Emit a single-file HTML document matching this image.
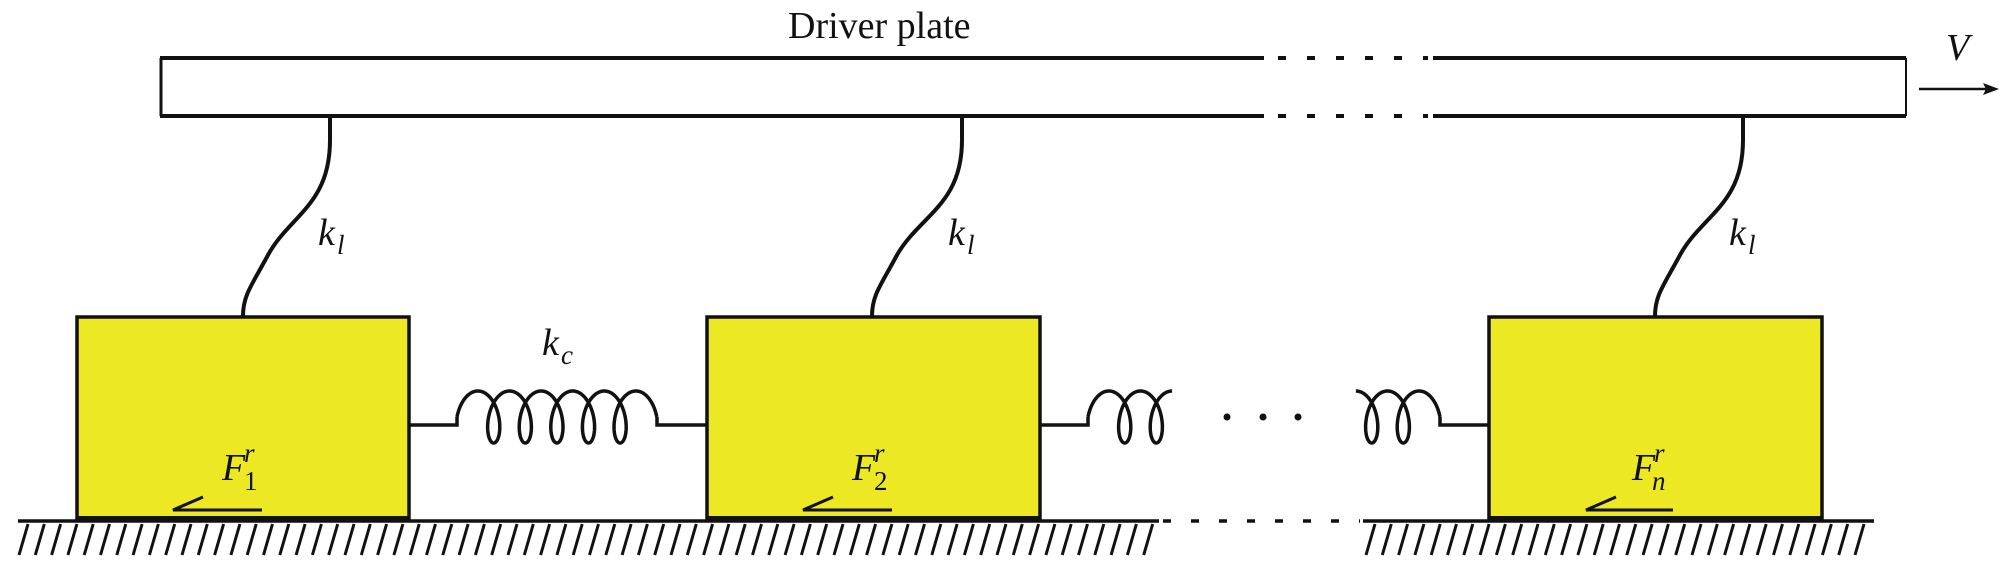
<!DOCTYPE html>
<html><head><meta charset="utf-8"><style>
html,body{margin:0;padding:0;background:#fff;}
svg{display:block;}
text{font-family:"Liberation Serif",serif;fill:#111;}
</style></head><body>
<svg id="s" width="2004" height="586" viewBox="0 0 2004 586" xmlns="http://www.w3.org/2000/svg">
<text x="788" y="38" font-size="38">Driver plate</text>
<g stroke="#111" fill="none">
<line x1="160" y1="58" x2="1264" y2="58" stroke-width="4"/>
<line x1="1433" y1="58" x2="1906" y2="58" stroke-width="4"/>
<line x1="160" y1="116" x2="1264" y2="116" stroke-width="4"/>
<line x1="1433" y1="116" x2="1906" y2="116" stroke-width="4"/>
<line x1="1278" y1="58" x2="1428" y2="58" stroke-width="4" stroke-dasharray="8 21"/>
<line x1="1278" y1="116" x2="1428" y2="116" stroke-width="4" stroke-dasharray="8 21"/>
<line x1="161" y1="58" x2="161" y2="116" stroke-width="3"/>
<line x1="1906" y1="58" x2="1906" y2="116" stroke-width="2"/>
<line x1="1919" y1="89" x2="1988" y2="89" stroke-width="2.5"/>
</g>
<path d="M1999,89 L1983,83 L1986,89 L1983,95 Z" fill="#111"/>
<text x="1946" y="60" font-size="38" font-style="italic">V</text>

<g stroke="#111" stroke-width="4" fill="none">
<path d="M330,117 L330,140 C330,205 290,215 268,255 C252,285 243,295 243,316"/>
<path d="M962,117 L962,140 C962,205 920,215 897,255 C881,285 872,295 872,316"/>
<path d="M1743,117 L1743,140 C1743,205 1702,215 1680,255 C1664,285 1655,295 1655,316"/>
</g>
<g font-size="38" font-style="italic">
<text x="318" y="245">k</text><text x="337" y="254" font-size="27">l</text>
<text x="948" y="245">k</text><text x="967" y="254" font-size="27">l</text>
<text x="1729" y="245">k</text><text x="1748" y="254" font-size="27">l</text>
<text x="542" y="355">k</text><text x="561" y="364" font-size="27">c</text>
</g>

<g fill="#ede824" stroke="#111" stroke-width="3.5">
<rect x="77" y="317" width="332" height="202"/>
<rect x="707" y="317" width="333" height="202"/>
<rect x="1489" y="317" width="333" height="202"/>
</g>
<g stroke="#111" stroke-width="4">
<line x1="77" y1="518" x2="409" y2="518"/>
<line x1="707" y1="518" x2="1040" y2="518"/>
<line x1="1489" y1="518" x2="1822" y2="518"/>
</g>

<g font-size="38" font-style="italic">
<text x="222" y="480">F</text><text x="244" y="462" font-size="27">r</text>
<text x="852" y="480">F</text><text x="874" y="462" font-size="27">r</text>
<text x="1632" y="480">F</text><text x="1654" y="462" font-size="27">r</text>
<text x="1652" y="490" font-size="27">n</text>
</g>
<g font-size="27"><text x="244" y="490">1</text><text x="874" y="490">2</text></g>
<g stroke="#111" stroke-width="3" fill="none">
<path d="M203,497 L173,510 L262,510"/>
<path d="M833,497 L803,510 L892,510"/>
<path d="M1616,497 L1586,510 L1673,510"/>
</g>

<g stroke="#111" stroke-width="3.5" fill="none" id="coils">
<path d="M409,425 L457,425 L457,417"/>
<path d="M657,417 L657,425 L707,425"/>
<path d="M1040,425 L1088,425 L1088,417"/>
<path d="M1440,417 L1440,425 L1489,425"/>
</g>
<g fill="#111">
<circle cx="1227" cy="417" r="3.5"/><circle cx="1263" cy="417" r="3.5"/><circle cx="1298" cy="417" r="3.5"/>
</g>

<g stroke="#111" stroke-width="3.5">
<line x1="18" y1="521" x2="1159" y2="521"/>
<line x1="1363" y1="521" x2="1874" y2="521"/>
<line x1="1163" y1="521" x2="1360" y2="521" stroke-dasharray="8 20"/>
</g>
<g id="hatch" stroke="#111" stroke-width="3"></g>
</svg>
<script>
(function(){
var ns="http://www.w3.org/2000/svg";
var P=31.6,A=13,B=26,yc=417;
function coil(xs,t0,t1){
  var d="";
  for(var i=0;i<=500;i++){
    var t=t0+(t1-t0)*i/500;
    var x=xs+P*t/(2*Math.PI)+A*Math.sin(t), y=yc-B*Math.cos(t);
    d+=(i?"L":"M")+x.toFixed(2)+","+y.toFixed(2);
  }
  var p=document.createElementNS(ns,"path");p.setAttribute("d",d);
  document.getElementById("coils").appendChild(p);
}
var PI=Math.PI;
coil(457+P/4+A,-PI/2,10.5*PI);
coil(1088+P/4+A,-PI/2,4*PI);
coil(1440-2.25*P-A,0,4.5*PI);
var h=document.getElementById("hatch");
function hatch(a,b){
  for(var x=a;x<=b;x+=16.3){
    var l=document.createElementNS(ns,"line");
    l.setAttribute("x1",x.toFixed(1));l.setAttribute("y1","555");
    l.setAttribute("x2",(x+9).toFixed(1));l.setAttribute("y2","524");
    h.appendChild(l);
  }
}
hatch(19,1150);
hatch(1366,1862);
})();
</script>
</body></html>
